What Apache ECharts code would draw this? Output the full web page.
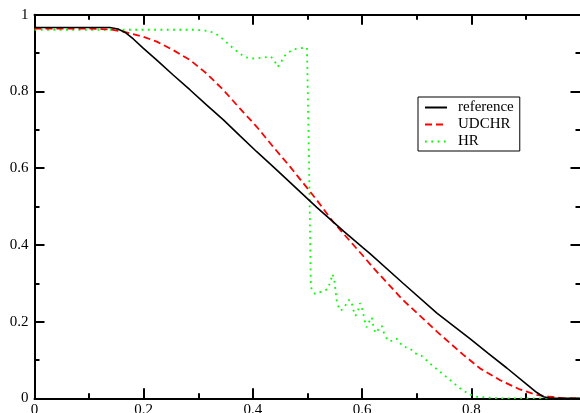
<!DOCTYPE html>
<html>
<head>
<meta charset="utf-8">
<script src="https://cdn.jsdelivr.net/npm/echarts@6/dist/echarts.min.js"></script>
<style>
  html, body { margin: 0; padding: 0; background: #fff; }
  #chart { width: 580px; height: 413px; }
</style>
</head>
<body>
<div id="chart"></div>
<script>
// reference solution
const refX = [0, 0.05, 0.1, 0.138, 0.153, 0.166, 0.181, 0.199, 0.224, 0.254, 0.285, 0.315, 0.346, 0.376, 0.407, 0.437, 0.468, 0.517, 0.547, 0.566, 0.602, 0.6145, 0.675, 0.737, 0.798, 0.831, 0.865, 0.901, 0.92, 0.932, 0.945, 1.0]
const refY = [0.967, 0.967, 0.967, 0.967, 0.963, 0.954, 0.937, 0.913, 0.882, 0.843, 0.804, 0.765, 0.726, 0.685, 0.643, 0.604, 0.563, 0.498, 0.46, 0.436, 0.392, 0.377, 0.3, 0.222, 0.155, 0.117, 0.079, 0.037, 0.015, 0.004, 0, 0]

// UDCHR
const udX = [0, 0.05, 0.1, 0.138, 0.163, 0.199, 0.224, 0.254, 0.285, 0.315, 0.346, 0.376, 0.407, 0.437, 0.468, 0.517, 0.547, 0.563, 0.602, 0.62, 0.675, 0.737, 0.785, 0.816, 0.853, 0.889, 0.92, 0.944, 0.97, 1.0]
const udY = [0.964, 0.964, 0.964, 0.962, 0.956, 0.943, 0.93, 0.908, 0.882, 0.847, 0.804, 0.756, 0.708, 0.656, 0.604, 0.517, 0.46, 0.434, 0.371, 0.341, 0.256, 0.174, 0.114, 0.078, 0.047, 0.023, 0.009, 0.004, 0, 0]

// HR
const hrX = [0, 0.1, 0.2, 0.27, 0.294, 0.318, 0.331, 0.34, 0.349, 0.358, 0.367, 0.376, 0.387, 0.399, 0.41, 0.422, 0.433, 0.44, 0.445, 0.451, 0.456, 0.465, 0.475, 0.486, 0.499, 0.503, 0.506, 0.508, 0.514, 0.526, 0.536, 0.541, 0.546, 0.549, 0.552, 0.553, 0.556, 0.561, 0.569, 0.575, 0.58, 0.584, 0.588, 0.593, 0.596, 0.599, 0.602, 0.605, 0.608, 0.613, 0.618, 0.621, 0.625, 0.63, 0.636, 0.639, 0.645, 0.651, 0.663, 0.675, 0.688, 0.697, 0.707, 0.724, 0.743, 0.761, 0.779, 0.797, 0.81, 0.85, 0.9, 1.0]
const hrY = [0.961, 0.961, 0.961, 0.961, 0.961, 0.958, 0.952, 0.942, 0.932, 0.92, 0.909, 0.899, 0.889, 0.886, 0.887, 0.889, 0.891, 0.879, 0.864, 0.874, 0.89, 0.902, 0.91, 0.913, 0.914, 0.6, 0.295, 0.281, 0.272, 0.278, 0.284, 0.3, 0.324, 0.308, 0.275, 0.258, 0.241, 0.228, 0.241, 0.256, 0.255, 0.23, 0.215, 0.232, 0.248, 0.239, 0.222, 0.2, 0.185, 0.2, 0.211, 0.183, 0.17, 0.18, 0.189, 0.174, 0.156, 0.148, 0.156, 0.135, 0.13, 0.117, 0.113, 0.091, 0.069, 0.048, 0.026, 0.01, 0.004, 0, 0, 0]

const xTicks = { min: 0, max: 1, interval: 0.2 }
const yTicks = { min: 0, max: 1, interval: 0.2 }

const font = 'Liberation Serif'
const pairs = (xs, ys) => xs.map((x, i) => [x, ys[i]])

const frameAxis = (pos, ticks, labels) => ({
  type: 'value',
  position: pos,
  min: ticks.min,
  max: ticks.max,
  interval: ticks.interval,
  axisLine: { show: true, onZero: false, lineStyle: { color: '#000', width: 2 } },
  axisTick: { show: true, inside: true, length: 10, lineStyle: { color: '#000', width: 2 } },
  minorTick: { show: true, splitNumber: 2, length: 5, lineStyle: { color: '#000', width: 2 } },
  splitLine: { show: false },
  axisLabel: labels
    ? { show: true, color: '#000', fontFamily: font, fontSize: 15, margin: pos === 'bottom' ? 4 : 6, showMaxLabel: pos !== 'bottom' }
    : { show: false },
})

const chart = echarts.init(document.getElementById('chart'), null, { renderer: 'canvas' })
chart.setOption({
  animation: false,
  backgroundColor: '#fff',
  grid: { left: 34.5, top: 14.8, width: 546, height: 383.5, containLabel: false, outerBoundsMode: 'none' },
  xAxis: [frameAxis('bottom', xTicks, true), frameAxis('top', xTicks, false)],
  yAxis: [frameAxis('left', yTicks, true), frameAxis('right', yTicks, false)],
  legend: {
    orient: 'vertical',
    left: 418,
    top: 97,
    padding: [3, 6, 2, 6],
    itemGap: 2,
    itemWidth: 22,
    itemHeight: 14,
    borderColor: '#000',
    borderWidth: 1,
    borderRadius: 0,
    backgroundColor: '#fff',
    itemStyle: { opacity: 0 },
    textStyle: { color: '#000', fontFamily: font, fontSize: 15, lineHeight: 14, padding: [0, 0, 0, 6] },
    data: ['reference', 'UDCHR', 'HR'],
  },
  series: [
    {
      name: 'reference',
      type: 'line',
      symbol: 'none',
      data: pairs(refX, refY),
      lineStyle: { color: '#000', width: 1.6 },
      itemStyle: { color: '#000' },
      z: 3,
    },
    {
      name: 'UDCHR',
      type: 'line',
      symbol: 'none',
      data: pairs(udX, udY),
      lineStyle: { color: '#ff0000', width: 1.8, type: [7, 4] },
      itemStyle: { color: '#ff0000' },
      z: 2,
    },
    {
      name: 'HR',
      type: 'line',
      symbol: 'none',
      data: pairs(hrX, hrY),
      lineStyle: { color: '#00ff00', width: 1.8, type: [1.8, 4.5] },
      itemStyle: { color: '#00ff00' },
      z: 1,
    },
  ],
})
</script>
</body>
</html>
